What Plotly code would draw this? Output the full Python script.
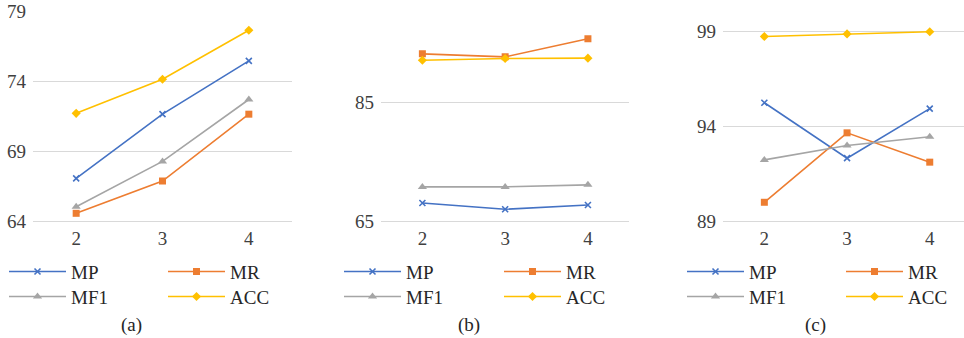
import plotly.graph_objects as go

# Number of groups on the x axis
groups = [2, 3, 4]
metrics = ["MP", "MR", "MF1", "ACC"]

# Panel (a)
a_mp = [67.05, 71.64, 75.45]
a_mr = [64.55, 66.86, 71.64]
a_mf1 = [65.02, 68.26, 72.69]
a_acc = [71.70, 74.14, 77.64]

# Panel (b)
b_mp = [68.04, 66.98, 67.70]
b_mr = [93.18, 92.67, 95.72]
b_mf1 = [70.75, 70.75, 71.09]
b_acc = [92.10, 92.39, 92.45]

# Panel (c)
c_mp = [95.25, 92.32, 94.94]
c_mr = [89.99, 93.66, 92.11]
c_mf1 = [92.23, 92.99, 93.45]
c_acc = [98.75, 98.89, 99.00]

a_ticks = [64, 69, 74, 79]
b_ticks = [65, 85]
c_ticks = [89, 94, 99]
captions = ["(a)", "(b)", "(c)"]

W, H = 964, 338
FONT = "'Liberation Serif', 'Times New Roman', Tinos, Times, serif"
GRID = "#D9D9D9"

colors = {"MP": "#4472C4", "MR": "#ED7D31", "MF1": "#A5A5A5", "ACC": "#FFC000"}
symbols = {"MP": "x-thin-open", "MR": "square", "MF1": "triangle-up", "ACC": "diamond"}
sizes = {"MP": 6, "MR": 7, "MF1": 8, "ACC": 7}

panels = [
    dict(vals=[a_mp, a_mr, a_mf1, a_acc], ticks=a_ticks, yr=[64, 79.02],
         px=(33, 292), xr=[1.5, 4.5], legs=("legend", "legend2"),
         leg_x=(4, 158), cap_x=131.7),
    dict(vals=[b_mp, b_mr, b_mf1, b_acc], ticks=b_ticks, yr=[65, 100.4],
         px=(381, 629.3), xr=[1.5, 4.5], legs=("legend3", "legend4"),
         leg_x=(339, 494), cap_x=469),
    dict(vals=[c_mp, c_mr, c_mf1, c_acc], ticks=c_ticks, yr=[89, 100.1],
         px=(723, 964), xr=[1.5, 1.5 + 241 / 82.7], legs=("legend5", "legend6"),
         leg_x=(682, 836), cap_x=815),
]

plot_top, plot_bottom = 11, 221
ydom = [(H - plot_bottom) / H, (H - plot_top) / H]
row_y = [271.7, 296.7]

fig = go.Figure()
layout = dict(
    width=W, height=H,
    margin=dict(l=0, r=0, t=0, b=0, autoexpand=False),
    paper_bgcolor="white", plot_bgcolor="white",
    font=dict(family=FONT, size=19, color="#404040"),
    showlegend=True,
)

annotations = []
for i, p in enumerate(panels):
    n = "" if i == 0 else str(i + 1)
    xa, ya = "x" + n, "y" + n
    for k, m in enumerate(metrics):
        # first row of the legend holds MP/MR, second row MF1/ACC
        leg = p["legs"][0] if k < 2 else p["legs"][1]
        fig.add_trace(go.Scatter(
            x=groups, y=p["vals"][k], name=m, mode="lines+markers",
            xaxis=xa, yaxis=ya, legend=leg,
            line=dict(color=colors[m], width=1.6),
            marker=dict(symbol=symbols[m], size=sizes[m], color=colors[m],
                        line=dict(color=colors[m], width=1.6 if m == "MP" else 0)),
        ))
    layout["xaxis" + n] = dict(
        domain=[p["px"][0] / W, p["px"][1] / W], range=p["xr"],
        tickvals=groups, ticktext=[str(g) for g in groups],
        showgrid=False, zeroline=False, showline=True, linecolor=GRID, linewidth=1,
        ticks="", tickfont=dict(family=FONT, size=19, color="#404040"),
        anchor=ya, fixedrange=True, automargin=False,
    )
    layout["yaxis" + n] = dict(
        domain=ydom, range=p["yr"], tickvals=p["ticks"],
        showgrid=True, gridcolor=GRID, gridwidth=1, zeroline=False,
        showline=False, ticks="", ticklabelstandoff=6,
        tickfont=dict(family=FONT, size=19, color="#404040"),
        anchor=xa, fixedrange=True, automargin=False,
    )
    for r, leg in enumerate(p["legs"]):
        layout[leg] = dict(
            orientation="h", x=p["leg_x"][0] / W, xanchor="left",
            y=(H - row_y[r]) / H, yanchor="middle",
            itemwidth=57, entrywidth=p["leg_x"][1] - p["leg_x"][0] - 67,
            entrywidthmode="pixels", traceorder="normal",
            bgcolor="rgba(0,0,0,0)", borderwidth=0,
            font=dict(family=FONT, size=19, color="#262626"),
            itemclick=False, itemdoubleclick=False,
        )
    annotations.append(dict(
        text=captions[i], x=p["cap_x"] / W, y=(H - 325) / H,
        xref="paper", yref="paper", xanchor="center", yanchor="middle",
        showarrow=False, font=dict(family=FONT, size=19, color="#262626"),
    ))

layout["annotations"] = annotations
fig.update_layout(**layout)
fig.write_html("out.html")
